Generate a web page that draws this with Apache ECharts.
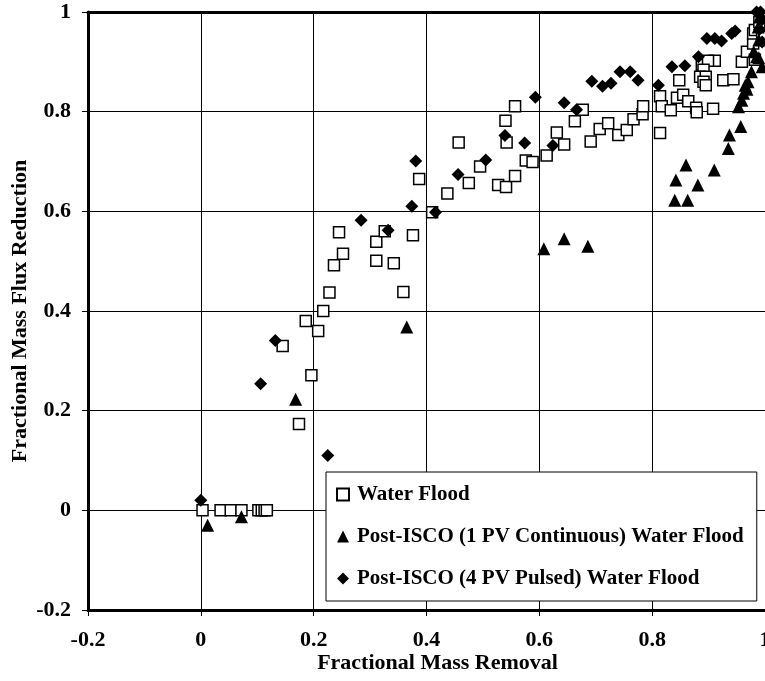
<!DOCTYPE html>
<html>
<head>
<meta charset="utf-8">
<script src="https://cdn.jsdelivr.net/npm/echarts@6/dist/echarts.min.js"></script>
<style>html,body{margin:0;padding:0;background:#fff}#c{width:765px;height:681px}</style>
</head>
<body>
<div id="c"></div>
<script>
const xTicks = [-0.2, 0, 0.2, 0.4, 0.6, 0.8, 1];
const yTicks = [-0.2, 0, 0.2, 0.4, 0.6, 0.8, 1];
const seriesNames = ['Water Flood', 'Post-ISCO (1 PV Continuous) Water Flood', 'Post-ISCO (4 PV Pulsed) Water Flood'];

const waterFlood = [
  [0.003,0],[0.035,0],[0.053,0],[0.072,0],[0.102,0],[0.108,0],[0.113,0],[0.117,0],
  [0.174,0.173],[0.196,0.271],[0.145,0.330],[0.208,0.360],[0.186,0.380],[0.217,0.400],
  [0.228,0.437],[0.359,0.438],[0.236,0.492],[0.311,0.501],[0.342,0.496],[0.252,0.515],
  [0.311,0.539],[0.245,0.558],[0.326,0.560],[0.376,0.552],[0.410,0.598],[0.387,0.665],
  [0.437,0.636],[0.475,0.657],[0.457,0.738],[0.495,0.690],[0.527,0.653],[0.541,0.649],
  [0.557,0.671],[0.540,0.782],[0.542,0.738],[0.557,0.811],[0.576,0.702],[0.588,0.699],
  [0.613,0.712],[0.631,0.758],[0.644,0.734],[0.663,0.781],[0.677,0.804],[0.691,0.740],
  [0.707,0.765],[0.722,0.777],[0.740,0.753],[0.755,0.763],[0.767,0.785],[0.783,0.795],
  [0.784,0.811],[0.814,0.757],[0.814,0.831],[0.817,0.811],[0.833,0.803],[0.844,0.828],
  [0.848,0.863],[0.855,0.834],[0.864,0.821],[0.878,0.808],[0.879,0.799],[0.908,0.806],
  [0.888,0.894],[0.911,0.902],[0.899,0.902],[0.891,0.884],[0.885,0.870],[0.895,0.870],
  [0.891,0.860],[0.895,0.853],[0.926,0.863],[0.944,0.865],[0.959,0.900],[0.968,0.920],
  [0.982,0.904],[0.979,0.937],[0.979,0.957],[0.982,0.964],[0.990,0.980],[0.995,0.950]
];
const continuousFlood = [
  [0.012,-0.030],[0.072,-0.013],[0.168,0.223],[0.365,0.368],[0.608,0.525],[0.644,0.545],
  [0.686,0.530],[0.840,0.622],[0.863,0.622],[0.842,0.663],[0.881,0.653],[0.860,0.693],
  [0.910,0.683],[0.935,0.726],[0.937,0.753],[0.957,0.770],[0.953,0.810],[0.959,0.823],
  [0.962,0.837],[0.965,0.853],[0.968,0.845],[0.976,0.880],[0.985,0.910],[0.989,0.908],
  [0.989,0.944],[0.988,0.970],[0.990,0.990],[0.995,0.890],[0.970,0.860],[0.980,0.920]
];
const pulsedFlood = [
  [0.000,0.020],[0.106,0.254],[0.132,0.341],[0.225,0.110],[0.284,0.582],[0.332,0.562],
  [0.374,0.610],[0.381,0.701],[0.416,0.598],[0.456,0.674],[0.505,0.703],[0.539,0.752],
  [0.574,0.737],[0.593,0.829],[0.624,0.732],[0.644,0.818],[0.666,0.804],[0.693,0.861],
  [0.712,0.851],[0.727,0.857],[0.743,0.880],[0.761,0.880],[0.775,0.863],[0.811,0.853],
  [0.835,0.890],[0.858,0.892],[0.882,0.910],[0.897,0.947],[0.911,0.947],[0.923,0.942],
  [0.941,0.957],[0.947,0.962],[0.985,1.000],[0.992,1.000],[0.995,0.985],[0.990,0.965],[0.995,0.940]
];

const FONT = 'Liberation Serif';
const chart = echarts.init(document.getElementById('c'), null, {renderer: 'canvas'});
const axisCommon = {
  type: 'value', min: -0.2, max: 1, interval: 0.2,
  axisLine: {show: true, onZero: false, lineStyle: {color: '#000', width: 3}},
  axisTick: {show: true, inside: false, length: 6, lineStyle: {color: '#000', width: 1}},
  splitLine: {show: true, lineStyle: {color: '#000', width: 1}},
  axisLabel: {color: '#000', fontFamily: FONT, fontWeight: 'bold', fontSize: 22, hideOverlap: false,
    formatter: v => { const r = Math.round(v * 10) / 10; return xTicks.includes(r) ? String(r) : ''; }},
  nameTextStyle: {color: '#000', fontFamily: FONT, fontWeight: 'bold', fontSize: 22},
  nameLocation: 'middle',
  nameMoveOverlap: false
};
chart.setOption({
  animation: false,
  backgroundColor: '#fff',
  grid: {left: 88, right: 0, top: 12, bottom: 71, containLabel: false, outerBoundsMode: 'none'},
  xAxis: [
    Object.assign({}, axisCommon, {position: 'bottom', name: 'Fractional Mass Removal', nameGap: 42,
      nameTextStyle: Object.assign({}, axisCommon.nameTextStyle, {padding: [0, 0, 0, 22]}),
      axisLabel: Object.assign({}, axisCommon.axisLabel, {margin: 19})}),
    {type: 'value', min: -0.2, max: 1, position: 'top', axisLine: {show: true, onZero: false, lineStyle: {color: '#000', width: 3}},
      axisTick: {show: false}, axisLabel: {show: false}, splitLine: {show: false}}
  ],
  yAxis: Object.assign({}, axisCommon, {name: 'Fractional Mass Flux Reduction', nameGap: 57,
    axisLabel: Object.assign({}, axisCommon.axisLabel, {margin: 17})}),
  legend: {
    orient: 'vertical', left: 326, top: 472,
    backgroundColor: '#fff', borderColor: '#000', borderWidth: 1,
    padding: [12, 13, 12, 10], itemGap: 21, itemWidth: 12, itemHeight: 12,
    textStyle: {color: '#000', fontFamily: FONT, fontWeight: 'bold', fontSize: 21, padding: [0, 0, 0, 3]},
    data: seriesNames
  },
  series: [
    {name: seriesNames[0], type: 'scatter', data: waterFlood, symbol: 'rect', symbolSize: 11,
      itemStyle: {color: '#fff', borderColor: '#000', borderWidth: 1.5, opacity: 1}},
    {name: seriesNames[1], type: 'scatter', data: continuousFlood, symbol: 'triangle', symbolSize: 13,
      itemStyle: {color: '#000', opacity: 1}},
    {name: seriesNames[2], type: 'scatter', data: pulsedFlood, symbol: 'diamond', symbolSize: 13,
      itemStyle: {color: '#000', opacity: 1}}
  ]
});
</script>
</body>
</html>
